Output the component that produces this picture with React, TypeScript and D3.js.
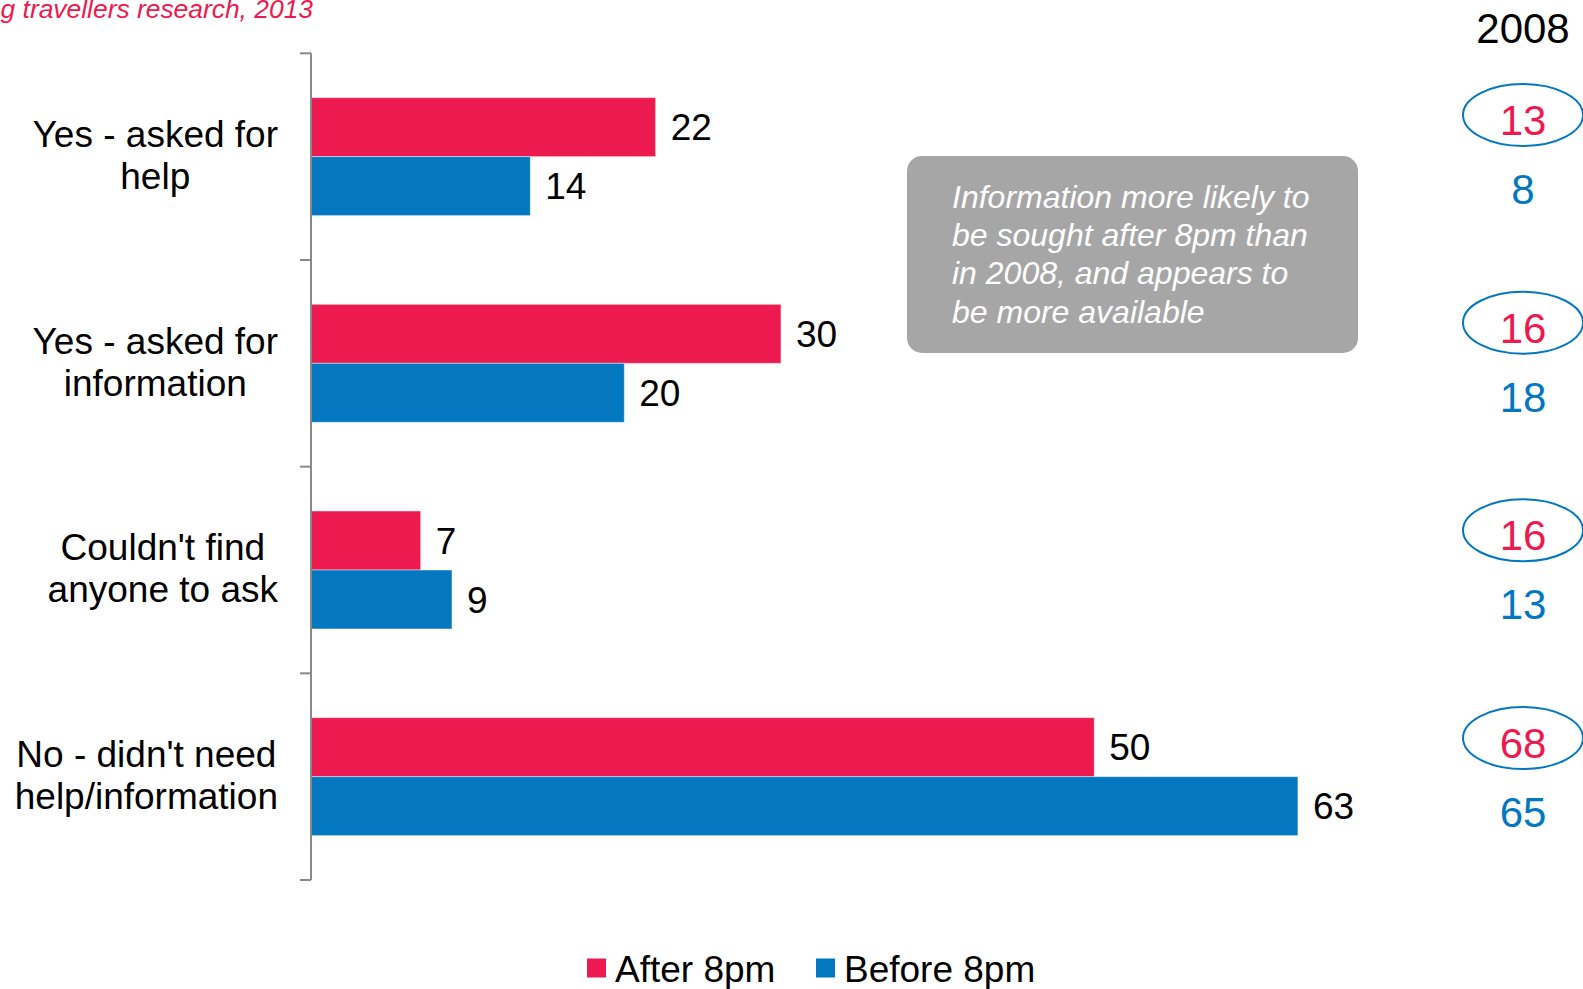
import React, { useMemo } from "react";
import * as d3 from "d3";

// ---------- data ----------
const categories = ["help", "info", "noone", "noneed"];
const categoryLines: string[][] = [
  ["Yes - asked for", "help"],
  ["Yes - asked for", "information"],
  ["Couldn't find", "anyone to ask"],
  ["No - didn't need", "help/information"],
];
const seriesNames = ["After 8pm", "Before 8pm"];
const after8pm = [22, 30, 7, 50];
const before8pm = [14, 20, 9, 63];
const after2008 = [13, 16, 16, 68];
const before2008 = [8, 18, 13, 65];
const columnHeader = "2008";
const noteLines = [
  "Information more likely to",
  "be sought after 8pm than",
  "in 2008, and appears to",
  "be more available",
];
const sourceText = "g travellers research, 2013";

// ---------- style ----------
const RED = "#EC1A4F";
const BLUE = "#0377BF";
const GREY_BOX = "#A6A6A6";
const AXIS = "#898989";
const FONT = "'Liberation Sans', Arial, Helvetica, sans-serif";

const W = 1583;
const H = 989;

function measure(text: string, font: string): number {
  if (typeof document === "undefined") return text.length * 18;
  const c = document.createElement("canvas");
  const ctx = c.getContext("2d");
  if (!ctx) return text.length * 18;
  ctx.font = font;
  return ctx.measureText(text).width;
}

export default function App() {
  const plotTop = 53.3;
  const plotBottom = 880;
  const x0 = 311;

  const y = d3.scaleBand<string>().domain(categories).range([plotTop, plotBottom]).paddingInner(0).paddingOuter(0);
  const sub = d3
    .scaleBand<string>()
    .domain(seriesNames)
    .range([0, y.step()])
    .paddingInner(0)
    .paddingOuter(0.752);
  const x = d3.scaleLinear().domain([0, 70]).range([x0, x0 + 70 * 15.665]);
  const color = d3.scaleOrdinal<string, string>().domain(seriesNames).range([RED, BLUE]);

  // separate layout for the 2008 comparison column (red-number baselines)
  const y2008 = d3.scalePoint<string>().domain(categories).range([135, 758]);

  const series = [after8pm, before8pm];

  const labelFontSize = 37;
  const labelFont = `${labelFontSize}px ${FONT}`;
  const labelRight = 278;
  const labelCenters = useMemo(
    () =>
      categoryLines.map((lines) => {
        const w = Math.max(...lines.map((l) => measure(l, labelFont)));
        return labelRight - w / 2;
      }),
    []
  );

  const ticks = [...categories.map((c) => y(c) as number), plotBottom];
  const colX = 1523;

  return (
    <svg
      width={W}
      height={H}
      viewBox={`0 0 ${W} ${H}`}
      style={{ position: "absolute", left: 0, top: 0, display: "block", background: "#fff" }}
      fontFamily={FONT}
    >
      {/* source line */}
      <text x={313} y={17.5} textAnchor="end" fontSize={26.4} fontStyle="italic" fill={RED}>
        {sourceText}
      </text>

      {/* bars */}
      {categories.map((c, i) => (
        <g key={c}>
          {seriesNames.map((s, si) => {
            const v = series[si][i];
            const by = (y(c) as number) + (sub(s) as number);
            return (
              <g key={s}>
                <rect
                  x={x(0)}
                  y={by}
                  width={x(v) - x(0)}
                  height={sub.bandwidth()}
                  fill={color(s)}
                  stroke="#fff"
                  strokeOpacity={0.45}
                  strokeWidth={1}
                />
                <text
                  x={x(v) + 15}
                  y={by + sub.bandwidth() / 2}
                  dy="0.36em"
                  fontSize={labelFontSize}
                  fill="#000"
                >
                  {v}
                </text>
              </g>
            );
          })}
        </g>
      ))}

      {/* axis */}
      <line x1={x0} x2={x0} y1={plotTop} y2={plotBottom} stroke={AXIS} strokeWidth={2} />
      {ticks.map((t, i) => (
        <line key={i} x1={x0 - 11} x2={x0} y1={t} y2={t} stroke={AXIS} strokeWidth={2} />
      ))}

      {/* category labels */}
      {categories.map((c, i) => {
        const cy = (y(c) as number) + y.bandwidth() / 2;
        return (
          <text key={c} textAnchor="middle" fontSize={labelFontSize} fill="#000">
            {categoryLines[i].map((l, li) => (
              <tspan key={li} x={labelCenters[i]} y={cy - 9.5 + li * 41.7}>
                {l}
              </tspan>
            ))}
          </text>
        );
      })}

      {/* note box */}
      <rect x={907} y={156} width={451} height={197} rx={15} ry={15} fill={GREY_BOX} />
      <text fontSize={32} fontStyle="italic" fill="#fff">
        {noteLines.map((l, i) => (
          <tspan key={i} x={952} y={208 + i * 38.2}>
            {l}
          </tspan>
        ))}
      </text>

      {/* 2008 column */}
      <text x={colX} y={43} textAnchor="middle" fontSize={42} fill="#000">
        {columnHeader}
      </text>
      {categories.map((c, i) => {
        const ry = y2008(c) as number;
        return (
          <g key={c}>
            <ellipse cx={colX} cy={ry - 20} rx={60} ry={31} fill="none" stroke={BLUE} strokeWidth={2} />
            <text x={colX} y={ry} textAnchor="middle" fontSize={42} fill={RED}>
              {after2008[i]}
            </text>
            <text x={colX} y={ry + 69} textAnchor="middle" fontSize={42} fill={BLUE}>
              {before2008[i]}
            </text>
          </g>
        );
      })}

      {/* legend */}
      {seriesNames.map((s, i) => {
        const lx = i === 0 ? 587 : 816;
        return (
          <g key={s}>
            <rect x={lx} y={958.5} width={19} height={19} fill={color(s)} />
            <text x={lx + 28} y={981.5} fontSize={37} fill="#000">
              {s}
            </text>
          </g>
        );
      })}
    </svg>
  );
}
